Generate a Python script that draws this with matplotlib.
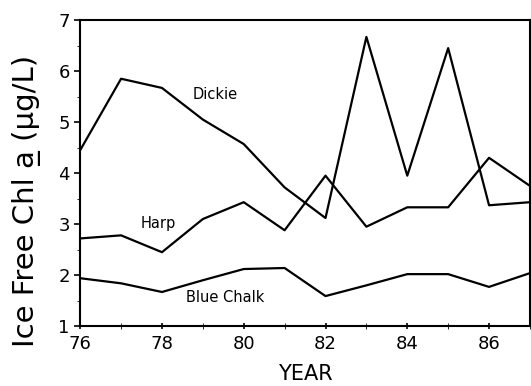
import numpy as np
import matplotlib
matplotlib.use('Agg')
import matplotlib.pyplot as plt

years = [76, 77, 78, 79, 80, 81, 82, 83, 84, 85, 86, 87]
dickie = [4.45, 5.85, 5.67, 5.05, 4.57, 3.72, 3.12, 6.67, 3.95, 6.45, 3.37, 3.43]
harp = [2.72, 2.78, 2.45, 3.1, 3.43, 2.88, 3.95, 2.95, 3.33, 3.33, 4.3, 3.75]
blue_chalk = [1.94, 1.84, 1.67, 1.9, 2.12, 2.14, 1.59, 1.8, 2.02, 2.02, 1.77, 2.04]

# label name, x, y
labels = [('Dickie', 79.3, 5.55), ('Harp', 77.9, 3.02), ('Blue Chalk', 79.55, 1.57)]

fig = plt.figure(figsize=(5.31, 3.86), dpi=100)
ax = fig.add_axes([0.151, 0.155, 0.847, 0.793])

for d in (dickie, harp, blue_chalk):
    ax.plot(years, d, color='black', lw=1.6)

for name, x, y in labels:
    ax.text(x, y, name, fontsize=10.5, ha='center', va='center')

ax.set_xlim(76, 87)
ax.set_ylim(1, 7)
ax.set_xticks([76, 78, 80, 82, 84, 86])
ax.set_xticks(years, minor=True)
ax.set_yticks([1, 2, 3, 4, 5, 6, 7])
ax.set_yticks(np.arange(1, 7.01, 0.5), minor=True)
ax.tick_params(axis='x', direction='inout', length=5, labelsize=13, width=1.2)
ax.tick_params(axis='x', which='minor', direction='inout', length=4)
ax.tick_params(axis='y', direction='out', length=4, labelsize=13, width=1.2)
ax.tick_params(axis='y', which='minor', direction='out', length=2)
for s in ax.spines.values():
    s.set_linewidth(1.5)

ax.set_xlabel('YEAR', fontsize=15, labelpad=8)
ax.set_ylabel('Ice Free Chl a\u0332 (\u00b5g/L)', fontsize=21)
ax.yaxis.set_label_coords(-0.088, 0.41)

fig.savefig('out.png', dpi=100)
